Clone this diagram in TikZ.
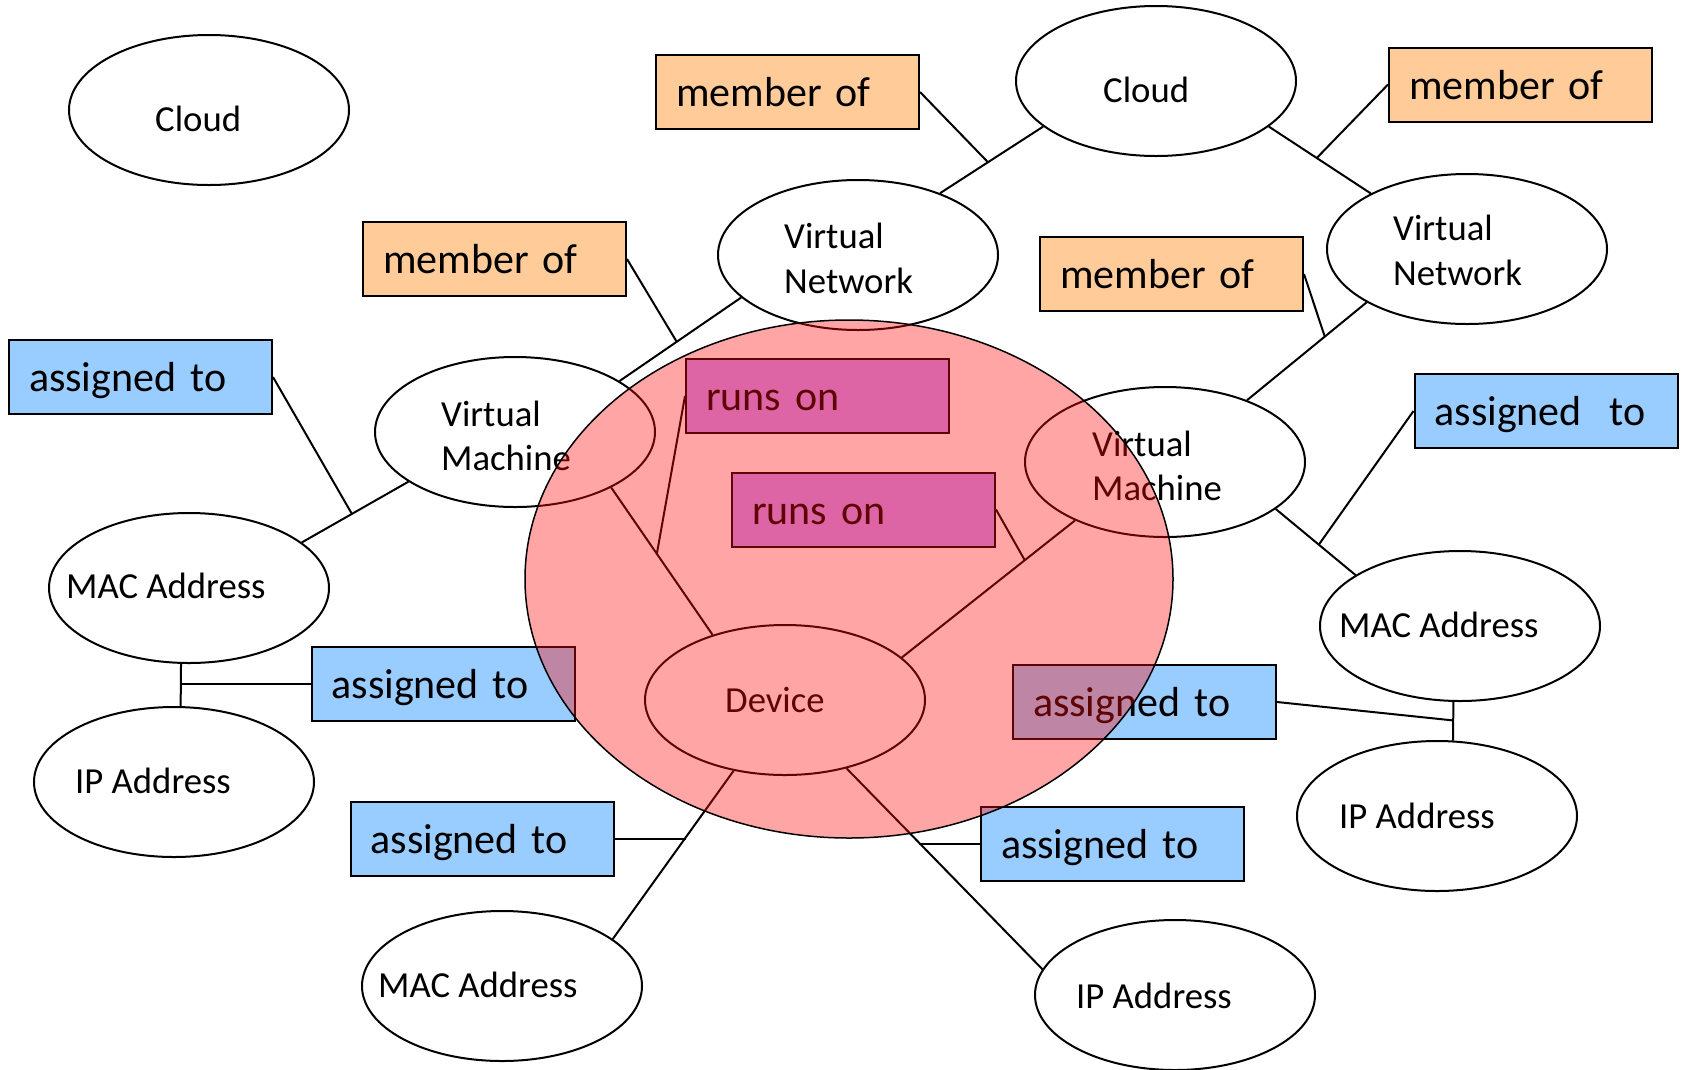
\documentclass[tikz,border=0pt]{standalone}
\usepackage{fontspec}
\setmainfont{Carlito}
\usetikzlibrary{shapes.geometric,calc}
\definecolor{orangefill}{RGB}{255,204,153}
\definecolor{bluefill}{RGB}{153,204,255}
\definecolor{purplefill}{RGB}{204,153,255}
\definecolor{pinkred}{RGB}{255,12,12}
\begin{document}
\begin{tikzpicture}[x=1pt,y=-1pt,
  ent/.style={draw=black, line width=2pt, ellipse, fill=white, minimum width=280pt, minimum height=150pt, inner sep=0pt},
  etext/.style={font=\fontsize{36.7}{44}\selectfont, inner sep=0pt, anchor=base west},
  rel/.style={draw=black, line width=2pt, rectangle, minimum width=263pt, minimum height=74pt, text width=223pt, inner xsep=20pt, inner ysep=0pt, align=left, font=\fontsize{42}{50}\selectfont, text height=36pt, text depth=7pt},
  memberbox/.style={rel, fill=orangefill},
  assignbox/.style={rel, fill=bluefill},
  runsbox/.style={rel, fill=purplefill},
  link/.style={draw=black, line width=2pt},
]
\useasboundingbox (0,0) rectangle (1681,1069);
\fill[white] (0,0) rectangle (1681,1069);

% entities
\node[ent] (cloudL) at (209,110) {};
\node[ent] (cloudT) at (1156,81) {};
\node[ent] (vn1) at (858,255) {};
\node[ent] (vn2) at (1467,249) {};
\node[ent] (vmL) at (515,432) {};
\node[ent] (vmR) at (1165,462) {};
\node[ent] (macL) at (189,588) {};
\node[ent] (device) at (785,700) {};
\node[ent] (macR) at (1460,626) {};
\node[ent] (ipL) at (174,782) {};
\node[ent] (ipR) at (1437,816) {};
\node[ent] (macB) at (502,986) {};
\node[ent] (ipB) at (1175,995) {};

% relation boxes
\node[memberbox] (mo1) at (787.5,92) {member of};
\node[memberbox] (mo2) at (1520.5,84.5) {member of};
\node[memberbox] (mo3) at (494.5,259) {member of};
\node[memberbox] (mo4) at (1171.5,274) {member of};
\node[assignbox] (atTL) at (140.5,377) {assigned to};
\node[runsbox] (ro1) at (817.5,396) {runs on};
\node[runsbox] (ro2) at (863.5,509.5) {runs on};
\node[assignbox] (atTR) at (1546,411) {assigned\ \ to};
\node[assignbox] (atML) at (443,684) {assigned to};
\node[assignbox] (atMR) at (1144.5,702) {assigned to};
\node[assignbox] (atBL) at (482,839) {assigned to};
\node[assignbox] (atBR) at (1112.5,844) {assigned to};

% connectors between entities
\draw[link] (vn1.37) -- (cloudT.202);
\draw[link] (cloudT.338) -- (vn2.150);
\draw[link] (vmL.26) -- (vn1.200);
\draw[link] (vmR.37) -- (vn2.208);
\draw[link] (macL.22) -- (vmL.205);
\draw[link] (vmL.330) -- (device.138);
\draw[link] (vmR.213) -- (device.20);
\draw[link] (vmR.337) -- (macR.154);
\draw[link] (macL.264) -- (ipL.85);
\draw[link] (macR.265) -- (ipR.78);
\draw[link] (device.234) -- (macB.23);
\draw[link] (device.312) -- (ipB.169);

% points on connectors
\coordinate (m1) at ($(vn1.37)!0.465!(cloudT.202)$);
\coordinate (m2) at ($(cloudT.338)!0.47!(vn2.150)$);
\coordinate (m3) at ($(vmL.26)!0.47!(vn1.200)$);
\coordinate (m4) at ($(vmR.37)!0.65!(vn2.208)$);
\coordinate (m5) at ($(macL.22)!0.47!(vmL.205)$);
\coordinate (m6) at ($(vmL.330)!0.45!(device.138)$);
\coordinate (m7) at ($(vmR.213)!0.29!(device.20)$);
\coordinate (m8) at ($(vmR.337)!0.54!(macR.154)$);
\coordinate (m10) at ($(macR.265)!0.48!(ipR.78)$);
\coordinate (m11) at ($(device.234)!0.39!(macB.23)$);
\coordinate (m12) at ($(device.312)!0.37!(ipB.169)$);

% label connectors
\draw[link] (mo1.east) -- (m1);
\draw[link] (mo2.west) -- (m2);
\draw[link] (mo3.east) -- (m3);
\draw[link] (mo4.east) -- (m4);
\draw[link] (atTL.east) -- (m5);
\draw[link] (ro1.west) -- (m6);
\draw[link] (ro2.east) -- (m7);
\draw[link] (atTR.west) -- (m8);
\draw[link] (atML.west) -- (atML.west -| macL.264);
\draw[link] (atMR.east) -- (m10);
\draw[link] (atBL.east) -- (atBL.east -| m11);
\draw[link] (atBR.west) -- (atBR.west -| m12);

% entity texts
\node[etext] (tcloudL) at (155,131) {Cloud};
\node[etext] (tcloudT) at (1103,102) {Cloud};
\node[etext] (tvn1a) at (784,248) {Virtual};
\node[etext] (tvn1b) at (784,293) {Network};
\node[etext] (tvn2a) at (1393,240) {Virtual};
\node[etext] (tvn2b) at (1393,285) {Network};
\node[etext] (tvmLa) at (441,426) {Virtual};
\node[etext] (tvmLb) at (441,470) {Machine};
\node[etext] (tvmRa) at (1092,456) {Virtual};
\node[etext] (tvmRb) at (1092,500) {Machine};
\node[etext] (tmacL) at (66,598) {MAC Address};
\node[etext] (tdevice) at (725,712) {Device};
\node[etext] (tmacR) at (1339,637) {MAC Address};
\node[etext] (tipL) at (75,793) {IP Address};
\node[etext] (tipR) at (1339,828) {IP Address};
\node[etext] (tmacB) at (378,997) {MAC Address};
\node[etext] (tipB) at (1076,1008) {IP Address};

% translucent device region
\node[draw=black, line width=1.5pt, ellipse, minimum width=648pt, minimum height=518pt, inner sep=0pt, fill=pinkred, fill opacity=0.37] (big) at (849,579) {};
\end{tikzpicture}
\end{document}
